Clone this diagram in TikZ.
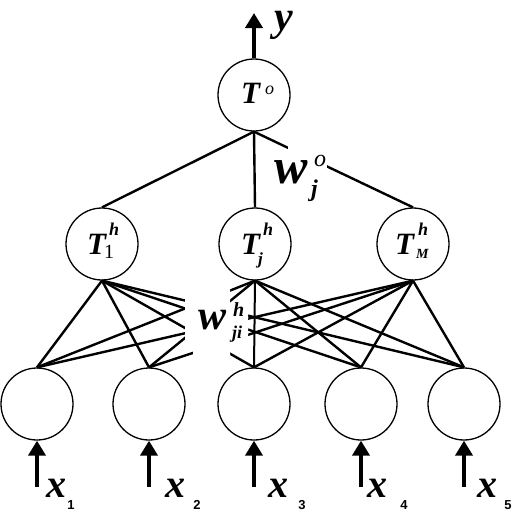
\documentclass[tikz,border=0pt]{standalone}
\usepackage{fontspec}
\setmainfont{Liberation Serif}
\newfontfamily\sansf{Liberation Sans}
\usetikzlibrary{arrows.meta}
\newcommand\fs[1]{\fontsize{#1}{#1}\selectfont}
% \at{dx}{dy}{content}: place content at offset dx right, dy up, zero width
\newcommand\at[3]{\rlap{\kern#1pt\raisebox{#2pt}{#3}}}
\begin{document}
\begin{tikzpicture}[x=1pt,y=-1pt,
  neuron/.style={circle,draw,line width=1.3pt,minimum size=72pt,inner sep=0pt},
  conn/.style={line width=2.4pt},
  bigarrow/.style={line width=4.5pt,-{Triangle[length=15pt,width=17pt]}},
  lbl/.style={inner sep=0pt,outer sep=0pt,anchor=base west},
  mask/.style={fill=white,draw=none}]
\useasboundingbox (0,0) rectangle (516,512);
% neurons
\node[neuron] (o)  at (254,95)  {};
\node[neuron] (h1) at (102,244) {};
\node[neuron] (hj) at (255,244) {};
\node[neuron] (hM) at (413,244) {};
\foreach \i/\x in {1/37,2/149,3/254,4/361,5/464}{
  \node[neuron] (i\i) at (\x,404) {};
  \coordinate (a\i) at (\x,487);
}
\coordinate (yt) at (254,13);
% output layer connectors
\draw[conn] (o.south) -- (h1.north);
\draw[conn] (o.south) -- (hj.north);
\draw[conn] (o.south) -- (hM.north);
\fill[mask] (288,138) rectangle (327,174);
% hidden to input connectors
\foreach \h in {h1,hM}{
  \foreach \i in {1,...,5}{ \draw[conn] (\h.south) -- (i\i.north); }
}
\foreach \i in {1,2,4,5}{ \draw[conn] (hj.south) -- (i\i.north); }
\fill[mask] (185,285) -- (230,285) -- (230,305) -- (248,305) -- (248,343)
  -- (230,343) -- (230,362) -- (193,362) -- (193,348) -- (185,348) -- cycle;
\draw[line width=2pt] (hj.south) -- (i3.north);
% arrows
\draw[bigarrow] (o.north) -- (yt);
\foreach \i in {1,...,5}{ \draw[bigarrow] (a\i) -- (i\i.south); }
% labels
\node[lbl] (ylab) at (274,30) {\fs{42}\bfseries\itshape y};
\node[lbl] (To) at (241,103) {\bfseries\itshape\at{0}{0}{\fs{31}T}\at{24}{9}{\fs{18}\mdseries o}\phantom{\fs{31}T\fs{18}o}};
\node[lbl] (T1) at (87,254) {\bfseries\itshape\at{0}{0}{\fs{31}T}\at{22}{19}{\fs{18}h}\at{17}{-4}{\fs{20}\mdseries\upshape 1}\phantom{\fs{31}T\fs{18}h}};
\node[lbl] (Tj) at (241,254) {\bfseries\itshape\at{0}{0}{\fs{31}T}\at{22}{19}{\fs{18}h}\at{17}{-10}{\fs{17}j}\phantom{\fs{31}T\fs{18}h}};
\node[lbl] (TM) at (395,254) {\bfseries\itshape\at{0}{0}{\fs{31}T}\at{23}{19}{\fs{18}h}\at{21}{-4}{\fs{14}M}\phantom{\fs{31}T\fs{18}h}};
\node[lbl] (wo) at (274,183) {\bfseries\itshape\at{0}{0}{\fs{50}w}\at{40}{17}{\fs{24}\mdseries o}\at{37}{-13}{\fs{24}j}\phantom{\fs{50}w\fs{24}o}};
\node[lbl] (wh) at (198,329) {\bfseries\itshape\at{0}{0}{\fs{42}w}\at{35}{13}{\fs{20}h}\at{34}{-9}{\fs{18}ji}\phantom{\fs{42}w\fs{20}h}};
\foreach \i/\x/\s in {1/46/71,2/165/197,3/268/302,4/367/404,5/477/508}{
  \node[lbl] (x\i) at (\x,497) {\fs{40}\bfseries\itshape x};
  \node[inner sep=0pt] (s\i) at (\s,505) {\fs{13}\sansf\bfseries \i};
}
\end{tikzpicture}
\end{document}
